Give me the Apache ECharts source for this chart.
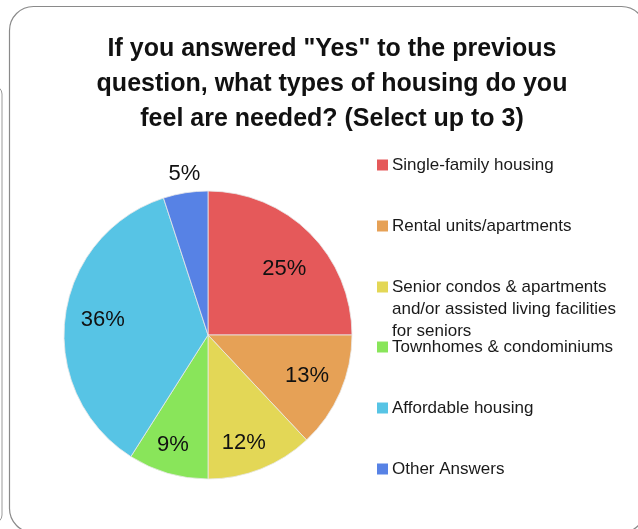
<!DOCTYPE html>
<html>
<head>
<meta charset="utf-8">
<script src="https://cdn.jsdelivr.net/npm/echarts@6/dist/echarts.min.js"></script>
<style>
html,body{margin:0;padding:0;background:#fff;}
#chart{width:638px;height:529px;}
</style>
</head>
<body>
<div id="chart"></div>
<script>
const titleText = 'If you answered "Yes" to the previous\nquestion, what types of housing do you\nfeel are needed? (Select up to 3)';
const categories = ['Single-family housing', 'Rental units/apartments', 'Senior condos & apartments\nand/or assisted living facilities\nfor seniors', 'Townhomes & condominiums', 'Affordable housing', 'Other Answers'];
const values = [25, 13, 12, 9, 36, 5];
const colors = ['#E5595A', '#E6A156', '#E3D756', '#89E55A', '#57C4E5', '#5782E5'];

// layout only (not data)
const legendCenters = [165, 226, 287, 347, 408, 469];
const labelOffsets = [[0, 10], [0, -2], [-4, 8], [-5, 6], [2, -2], [2, 0]];

const chart = echarts.init(document.getElementById('chart'), null, {renderer: 'canvas'});
const font = 'Liberation Sans, Arial, sans-serif';
const data = categories.map((c, i) => ({name: c, value: values[i], itemStyle: {color: colors[i]}}));

const legends = categories.map((c, i) => {
  const multi = c.indexOf('\n') >= 0;
  return {
    data: [c],
    orient: 'vertical',
    left: 377,
    top: multi ? legendCenters[i] - 55 : legendCenters[i] - 11,
    padding: 0,
    itemWidth: 11,
    itemHeight: 11,
    itemGap: 0,
    icon: 'rect',
    selectedMode: false,
    itemStyle: {borderWidth: 0},
    formatter: n => (n.indexOf('\n') >= 0 ? '\n\n' + n : n),
    textStyle: {fontFamily: font, fontSize: 17, color: '#1a1a1a', lineHeight: 22, padding: [0, 0, 0, -1]}
  };
});

const labelSeries = (radius, test) => ({
  type: 'pie',
  center: [208, 335],
  radius: radius,
  startAngle: 90,
  clockwise: true,
  silent: true,
  itemStyle: {color: 'rgba(0,0,0,0)', borderWidth: 0},
  emphasis: {disabled: true},
  labelLine: {show: false},
  data: categories.map((c, i) => ({
    name: c,
    value: values[i],
    label: {show: test(values[i]), position: 'inside', offset: labelOffsets[i], formatter: '{c}%', fontFamily: font, fontSize: 22, color: '#111'}
  }))
});

chart.setOption({
  animation: false,
  backgroundColor: '#fff',
  title: {
    text: titleText,
    left: 327,
    textAlign: 'center',
    top: 27,
    textStyle: {fontFamily: font, fontSize: 25, fontWeight: 'bold', color: '#111', lineHeight: 35}
  },
  legend: legends,
  graphic: [
    {type: 'rect', shape: {x: 9.5, y: 6.5, width: 636, height: 526, r: 24}, style: {fill: 'none', stroke: '#8a8a8a', lineWidth: 1.2}, silent: true, z: -1},
    {type: 'rect', shape: {x: -40, y: 86, width: 42, height: 437, r: 8}, style: {fill: 'none', stroke: '#9a9a9a', lineWidth: 1}, silent: true, z: -2}
  ],
  series: [
    {
      type: 'pie',
      center: [208, 335],
      radius: 144,
      startAngle: 90,
      clockwise: true,
      label: {show: false},
      labelLine: {show: false},
      itemStyle: {borderColor: '#e8e8e8', borderWidth: 0.8},
      data: data
    },
    labelSeries(210, v => v >= 6),
    labelSeries(320, v => v < 6)
  ]
});
</script>
</body>
</html>
